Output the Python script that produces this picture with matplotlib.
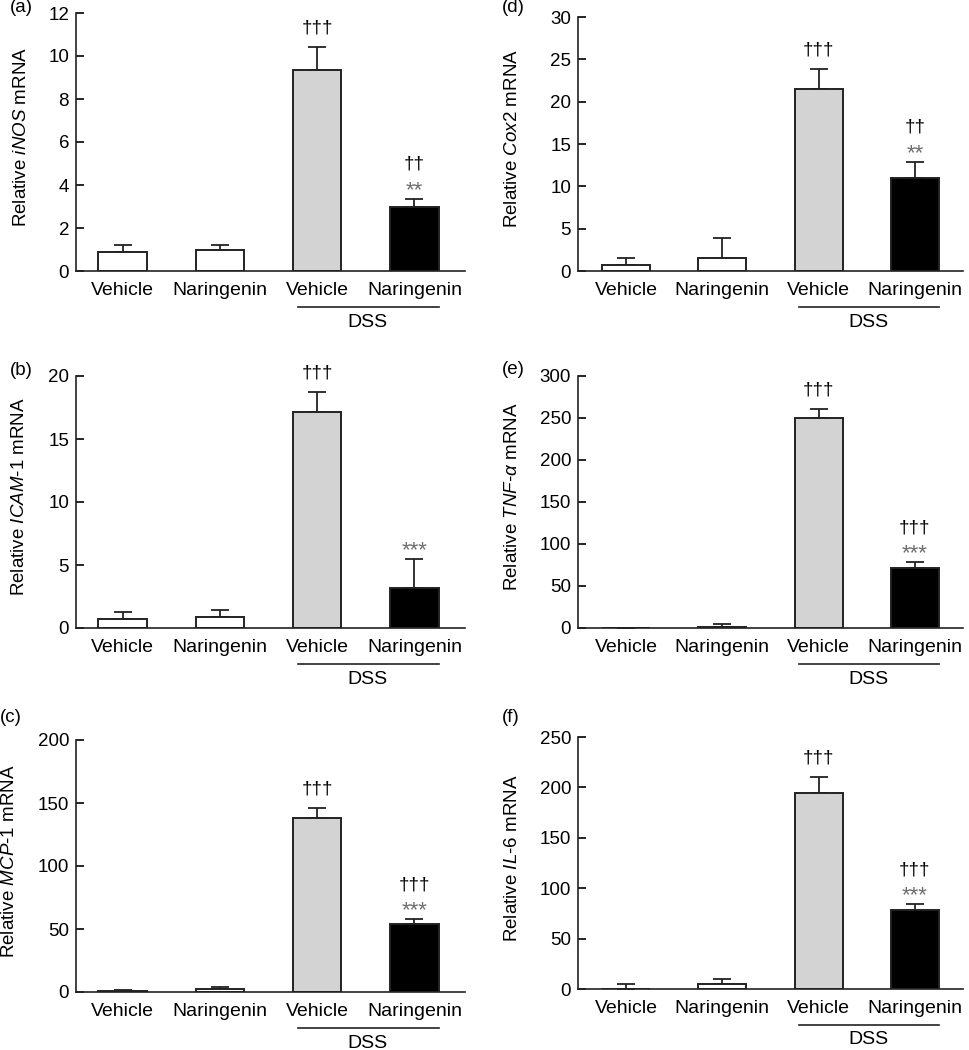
import numpy as np
import matplotlib
matplotlib.use('Agg')
import matplotlib.pyplot as plt
import matplotlib.transforms as mtransforms

plt.rcParams['font.family'] = ['Liberation Sans', 'DejaVu Sans']
plt.rcParams['mathtext.fontset'] = 'custom'
plt.rcParams['mathtext.rm'] = 'Liberation Sans'
plt.rcParams['mathtext.it'] = 'Liberation Sans:italic'

# Groups on the x axis
groups = ['Vehicle', 'Naringenin', 'Vehicle', 'Naringenin']
colors = ['white', 'white', '#d3d3d3', 'black']

# Mean and upper error for each gene
inos_mean = [0.9, 1.0, 9.35, 3.0]
inos_err = [0.32, 0.22, 1.05, 0.35]
icam_mean = [0.71, 0.87, 17.15, 3.17]
icam_err = [0.53, 0.56, 1.55, 2.3]
mcp_mean = [0.8, 2.6, 138.2, 54.2]
mcp_err = [0.7, 1.6, 8.0, 3.7]
cox_mean = [0.7, 1.57, 21.5, 11.0]
cox_err = [0.87, 2.36, 2.3, 1.9]
tnf_mean = [0.0, 1.0, 250.0, 72.0]
tnf_err = [0.0, 3.3, 10.4, 6.4]
il6_mean = [0.0, 4.7, 194.0, 78.4]
il6_err = [4.6, 4.9, 16.3, 5.6]

# significance marks
dag_a = ['', '', '†††', '††'];  star_a = ['', '', '', '**']
dag_b = ['', '', '†††', ''];    star_b = ['', '', '', '***']
dag_c = ['', '', '†††', '†††']; star_c = ['', '', '', '***']
dag_d = ['', '', '†††', '††'];  star_d = ['', '', '', '**']
dag_e = ['', '', '†††', '†††']; star_e = ['', '', '', '***']
dag_f = ['', '', '†††', '†††']; star_f = ['', '', '', '***']

W, H = 969, 1050
fig = plt.figure(figsize=(W/100, H/100), dpi=100)

def px_axes(l, r, t, b):
    return fig.add_axes([l/W, 1-b/H, (r-l)/W, (b-t)/H])

def panel(box, letter, letter_xy, label, mean, err, ymax, step, dag, star, xlim, labx):
    ax = px_axes(*box)
    x = np.arange(len(groups))
    ax.bar(x, mean, width=0.5, color=colors, edgecolor='#222222', linewidth=1.4, zorder=2)
    ax.errorbar(x, mean, yerr=[np.zeros(len(err)), err], fmt='none', ecolor='#222222',
                elinewidth=1.3, capsize=6.5, capthick=1.3, zorder=1)
    ax.set_xlim(*xlim)
    ax.set_ylim(0, ymax)
    ax.set_yticks(np.arange(0, ymax + step/2, step))
    ax.set_xticks(x)
    ax.set_xticklabels(groups, fontsize=14)
    ax.tick_params(axis='x', length=0, pad=8)
    ax.tick_params(axis='y', direction='in', length=6, width=1.2, labelsize=13.5, pad=5)
    for s in ['top', 'right']:
        ax.spines[s].set_visible(False)
    for s in ['left', 'bottom']:
        ax.spines[s].set_linewidth(1.2)
        ax.spines[s].set_color('#222222')
    ax.set_ylabel(label, fontsize=13.5)
    ax.yaxis.set_label_coords(labx, 0.52)
    ax.yaxis.label.set_verticalalignment('center')

    # marks above the error bars
    for i in range(len(groups)):
        top = mean[i] + err[i]
        if star[i]:
            ax.annotate(star[i], (x[i], top), xytext=(0, 3*0.72), textcoords='offset points',
                        ha='center', va='baseline', fontsize=16, color='#6e6e6e')
            dy = 30
        else:
            dy = 14.5
        if dag[i]:
            ax.annotate(dag[i], (x[i], top), xytext=(0, dy*0.72), textcoords='offset points',
                        ha='center', va='baseline', fontsize=13.5, color='black')

    # DSS bracket under the last two groups
    tr = mtransforms.blended_transform_factory(ax.transData, ax.transAxes)
    tr_line = tr + mtransforms.ScaledTranslation(0, -0.36, fig.dpi_scale_trans)
    ax.plot([1.8, 3.25], [0, 0], color='#222222', lw=1.2, transform=tr_line, clip_on=False)
    ax.annotate('DSS', (2.52, 0), xycoords=tr, xytext=(0, -51*0.72), textcoords='offset points',
                ha='center', va='center', fontsize=14)

    fig.text(letter_xy[0]/W, 1-letter_xy[1]/H, letter, fontsize=13.5, va='center')
    return ax

L = (-0.48, 3.52)
R = (-0.5, 3.5)
panel((76, 465, 13, 271), '(a)', (10, 8), r'Relative $\mathit{iNOS}$ mRNA',
      inos_mean, inos_err, 12, 2, dag_a, star_a, L, -0.141)
panel((76, 465, 376, 628), '(b)', (10, 370), r'Relative $\mathit{ICAM}$-$\mathit{1}$ mRNA',
      icam_mean, icam_err, 20, 5, dag_b, star_b, L, -0.144)
panel((76, 465, 740, 992), '(c)', (0, 718), r'Relative $\mathit{MCP}$-$\mathit{1}$ mRNA',
      mcp_mean, mcp_err, 200, 50, dag_c, star_c, L, -0.17)
panel((578, 963, 17, 271), '(d)', (502, 8), r'Relative $\mathit{Cox2}$ mRNA',
      cox_mean, cox_err, 30, 5, dag_d, star_d, R, -0.171)
panel((578, 963, 376, 628), '(e)', (502, 369), r'Relative $\mathit{TNF}$-$\mathit{\alpha}$ mRNA',
      tnf_mean, tnf_err, 300, 50, dag_e, star_e, R, -0.169)
panel((578, 963, 737, 989), '(f)', (502, 718), r'Relative $\mathit{IL}$-$\mathit{6}$ mRNA',
      il6_mean, il6_err, 250, 50, dag_f, star_f, R, -0.171)

fig.savefig('out.png', dpi=100)
